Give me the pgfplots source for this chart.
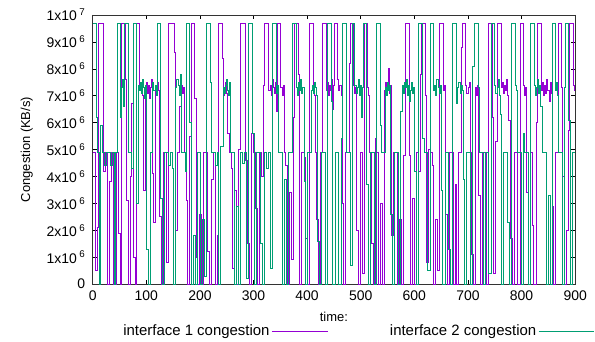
\documentclass[border=0pt]{standalone}
\usepackage{fontspec}
\setmainfont{Liberation Sans}
\usepackage{pgfplots}
\usepackage{pgfplotstable}
\pgfplotsset{compat=1.18}
\definecolor{ifaceA}{HTML}{9400D3}
\definecolor{ifaceB}{HTML}{009E73}
\pgfplotstableread[row sep=\\]{
t v\\
0 4.9\\5 4.9\\5 0.5\\8 0.5\\8 2.1\\11 2.1\\11 9.7\\19 9.7\\19 4.2\\23 4.2\\23 4.9\\27 4.9\\27 0\\31 0\\31 3.8\\35 3.8\\35 4.9\\39 4.9\\39 0\\44 0\\44 4.9\\48 4.9\\48 1.9\\51 1.9\\51 0\\54 0\\54 9.7\\61 9.7\\61 7.6\\63 7.6\\63 3.1\\66 3.1\\66 0\\70 0\\70 4.0\\73 4.0\\73 6.7\\76 6.7\\76 1.0\\79 1.0\\79 0\\82 0\\82 9.7\\88 9.7\\88 7.2\\91 7.2\\91 7.4\\93 7.4\\93 7.0\\95 7.0\\95 3.5\\98 3.5\\98 7.3\\100 7.3\\100 7.5\\102 7.5\\102 7.1\\104 7.1\\104 7.4\\106 7.4\\106 6.9\\108 6.9\\108 7.3\\110 7.3\\110 7.6\\112 7.6\\112 4.1\\114 4.1\\114 2.3\\117 2.3\\117 7.3\\119 7.3\\119 7.1\\121 7.1\\121 7.5\\123 7.5\\123 7.2\\125 7.2\\125 2.5\\128 2.5\\128 0\\131 0\\131 4.9\\138 4.9\\138 0.8\\141 0.8\\141 9.7\\152 9.7\\152 8.6\\155 8.6\\155 2.0\\158 2.0\\158 4.9\\162 4.9\\162 6.6\\165 6.6\\165 7.4\\167 7.4\\167 7.1\\169 7.1\\169 7.3\\171 7.3\\171 4.9\\174 4.9\\174 3.1\\177 3.1\\177 0\\181 0\\181 5.5\\184 5.5\\184 9.7\\190 9.7\\190 6.9\\193 6.9\\193 1.0\\196 1.0\\196 0\\199 0\\199 2.6\\202 2.6\\202 0\\206 0\\206 4.9\\213 4.9\\213 1.2\\217 1.2\\217 0\\221 0\\221 3.9\\225 3.9\\225 4.9\\228 4.9\\228 0\\232 0\\232 1.8\\235 1.8\\235 9.7\\242 9.7\\242 8.4\\244 8.4\\244 7.0\\246 7.0\\246 7.3\\248 7.3\\248 7.5\\250 7.5\\250 7.1\\252 7.1\\252 5.6\\255 5.6\\255 4.9\\258 4.9\\258 4.3\\261 4.3\\261 0.6\\264 0.6\\264 3.5\\268 3.5\\268 0\\272 0\\272 5.0\\276 5.0\\276 9.7\\285 9.7\\285 4.6\\288 4.6\\288 1.5\\292 1.5\\292 0\\296 0\\296 5.6\\300 5.6\\300 4.9\\304 4.9\\304 2.8\\307 2.8\\307 0\\311 0\\311 4.9\\315 4.9\\315 4.0\\318 4.0\\318 7.4\\321 7.4\\321 9.7\\328 9.7\\328 7.2\\331 7.2\\331 7.4\\333 7.4\\333 7.0\\335 7.0\\335 7.6\\337 7.6\\337 7.3\\339 7.3\\339 7.1\\341 7.1\\341 7.5\\343 7.5\\343 6.4\\345 6.4\\345 9.7\\351 9.7\\351 7.3\\353 7.3\\353 7.0\\355 7.0\\355 7.4\\357 7.4\\357 4.9\\360 4.9\\360 4.4\\363 4.4\\363 0\\367 0\\367 3.4\\370 3.4\\370 0.9\\374 0.9\\374 6.2\\377 6.2\\377 9.7\\384 9.7\\384 7.8\\386 7.8\\386 0\\390 0\\390 4.9\\394 4.9\\394 4.7\\397 4.7\\397 1.7\\400 1.7\\400 0\\404 0\\404 9.7\\411 9.7\\411 7.3\\413 7.3\\413 7.0\\415 7.0\\415 4.9\\418 4.9\\418 2.4\\421 2.4\\421 0\\425 0\\425 4.9\\428 4.9\\428 9.7\\435 9.7\\435 7.2\\437 7.2\\437 7.5\\439 7.5\\439 7.0\\441 7.0\\441 7.4\\443 7.4\\443 7.2\\445 7.2\\445 7.6\\447 7.6\\447 6.5\\449 6.5\\449 7.4\\451 7.4\\451 9.7\\457 9.7\\457 7.6\\459 7.6\\459 7.2\\461 7.2\\461 7.4\\463 7.4\\463 7.0\\465 7.0\\465 3.0\\468 3.0\\468 0\\472 0\\472 4.9\\479 4.9\\479 8.2\\481 8.2\\481 9.7\\486 9.7\\486 7.4\\488 7.4\\488 7.1\\490 7.1\\490 7.3\\492 7.3\\492 2.0\\495 2.0\\495 0\\499 0\\499 4.9\\503 4.9\\503 0.4\\506 0.4\\506 9.7\\513 9.7\\513 7.3\\515 7.3\\515 7.0\\517 7.0\\517 4.9\\520 4.9\\520 1.5\\523 1.5\\523 0\\527 0\\527 5.4\\530 5.4\\530 4.9\\533 4.9\\533 0\\537 0\\537 3.0\\540 3.0\\540 0\\544 0\\544 7.2\\546 7.2\\546 7.5\\548 7.5\\548 7.0\\550 7.0\\550 7.3\\552 7.3\\552 8.0\\554 8.0\\554 7.1\\556 7.1\\556 7.4\\558 7.4\\558 1.8\\561 1.8\\561 4.9\\568 4.9\\568 0\\572 0\\572 2.4\\575 2.4\\575 0\\579 0\\579 4.8\\583 4.8\\583 9.7\\590 9.7\\590 4.8\\593 4.8\\593 0\\597 0\\597 3.2\\600 3.2\\600 0\\604 0\\604 4.9\\608 4.9\\608 4.2\\611 4.2\\611 7.8\\614 7.8\\614 9.7\\620 9.7\\620 7.0\\623 7.0\\623 0.8\\626 0.8\\626 5.0\\630 5.0\\630 4.9\\633 4.9\\633 4.4\\636 4.4\\636 0\\640 0\\640 2.4\\643 2.4\\643 0.5\\647 0.5\\647 9.7\\654 9.7\\654 7.2\\656 7.2\\656 7.4\\658 7.4\\658 2.6\\661 2.6\\661 0\\665 0\\665 4.9\\672 4.9\\672 0\\676 0\\676 3.7\\679 3.7\\679 0\\683 0\\683 4.9\\687 4.9\\687 8.8\\690 8.8\\690 9.7\\696 9.7\\696 7.4\\698 7.4\\698 7.1\\700 7.1\\700 7.3\\702 7.3\\702 7.5\\704 7.5\\704 4.9\\707 4.9\\707 1.1\\710 1.1\\710 0\\714 0\\714 7.3\\716 7.3\\716 7.0\\718 7.0\\718 7.4\\720 7.4\\720 3.3\\723 3.3\\723 0\\727 0\\727 4.9\\734 4.9\\734 0\\738 0\\738 9.7\\745 9.7\\745 6.2\\748 6.2\\748 0.4\\752 0.4\\752 5.3\\755 5.3\\755 9.7\\762 9.7\\762 7.3\\764 7.3\\764 7.5\\766 7.5\\766 7.1\\768 7.1\\768 7.4\\770 7.4\\770 7.2\\772 7.2\\772 7.6\\774 7.6\\774 7.0\\776 7.0\\776 6.1\\779 6.1\\779 1.7\\782 1.7\\782 0\\786 0\\786 4.9\\793 4.9\\793 0\\797 0\\797 9.7\\803 9.7\\803 7.4\\805 7.4\\805 7.0\\807 7.0\\807 7.3\\809 7.3\\809 3.4\\812 3.4\\812 0\\816 0\\816 4.9\\820 4.9\\820 2.2\\823 2.2\\823 0\\827 0\\827 6.0\\830 6.0\\830 9.7\\837 9.7\\837 7.2\\839 7.2\\839 7.5\\841 7.5\\841 7.0\\843 7.0\\843 7.4\\845 7.4\\845 7.1\\847 7.1\\847 7.6\\849 7.6\\849 7.2\\851 7.2\\851 6.8\\853 6.8\\853 7.5\\855 7.5\\855 7.1\\857 7.1\\857 2.9\\860 2.9\\860 0\\864 0\\864 4.9\\868 4.9\\868 9.7\\875 9.7\\875 7.3\\877 7.3\\877 4.0\\880 4.0\\880 0\\884 0\\884 2.0\\887 2.0\\887 5.7\\890 5.7\\890 9.7\\896 9.7\\896 7.4\\898 7.4\\898 7.2\\900 7.2\\
}\ifaceAdata
\pgfplotstableread[row sep=\\]{
t v\\
0 9.7\\6 9.7\\6 6.2\\8 6.2\\8 4.9\\12 4.9\\12 0\\15 0\\15 5.9\\18 5.9\\18 4.9\\22 4.9\\22 4.4\\25 4.4\\25 4.9\\33 4.9\\33 4.4\\36 4.4\\36 4.9\\40 4.9\\40 0\\43 0\\43 4.9\\46 4.9\\46 9.7\\52 9.7\\52 6.2\\54 6.2\\54 7.3\\56 7.3\\56 7.6\\58 7.6\\58 6.6\\60 6.6\\60 9.7\\66 9.7\\66 4.9\\73 4.9\\73 4.3\\76 4.3\\76 9.7\\82 9.7\\82 3.0\\85 3.0\\85 7.4\\87 7.4\\87 7.2\\89 7.2\\89 7.5\\91 7.5\\91 7.1\\93 7.1\\93 7.6\\95 7.6\\95 7.3\\97 7.3\\97 6.9\\99 6.9\\99 7.4\\101 7.4\\101 1.3\\104 1.3\\104 0\\108 0\\108 4.9\\112 4.9\\112 7.5\\114 7.5\\114 7.2\\116 7.2\\116 7.4\\118 7.4\\118 7.0\\120 7.0\\120 9.7\\127 9.7\\127 3.2\\130 3.2\\130 0\\134 0\\134 4.9\\141 4.9\\141 4.4\\144 4.4\\144 4.9\\148 4.9\\148 4.3\\151 4.3\\151 0\\155 0\\155 7.3\\157 7.3\\157 7.6\\159 7.6\\159 7.4\\161 7.4\\161 7.0\\163 7.0\\163 7.8\\165 7.8\\165 4.9\\172 4.9\\172 4.2\\175 4.2\\175 9.7\\181 9.7\\181 6.0\\184 6.0\\184 0\\188 0\\188 1.8\\192 1.8\\192 0\\196 0\\196 4.9\\200 4.9\\200 0\\204 0\\204 2.4\\208 2.4\\208 0.3\\212 0.3\\212 9.7\\219 9.7\\219 7.5\\221 7.5\\221 4.9\\229 4.9\\229 4.4\\232 4.4\\232 4.9\\235 4.9\\235 0\\239 0\\239 5.1\\243 5.1\\243 7.3\\245 7.3\\245 7.1\\247 7.1\\247 7.4\\249 7.4\\249 7.6\\251 7.6\\251 7.2\\253 7.2\\253 7.0\\255 7.0\\255 7.5\\257 7.5\\257 4.9\\264 4.9\\264 0\\268 0\\268 2.9\\271 2.9\\271 0\\275 0\\275 4.9\\279 4.9\\279 4.5\\283 4.5\\283 4.9\\287 4.9\\287 0.2\\291 0.2\\291 9.7\\298 9.7\\298 5.6\\301 5.6\\301 0\\305 0\\305 4.9\\312 4.9\\312 1.5\\316 1.5\\316 0\\320 0\\320 4.9\\324 4.9\\324 4.3\\328 4.3\\328 4.9\\332 4.9\\332 0.6\\336 0.6\\336 9.7\\343 9.7\\343 7.1\\345 7.1\\345 7.4\\347 7.4\\347 4.9\\354 4.9\\354 0\\358 0\\358 3.9\\361 3.9\\361 0\\365 0\\365 4.9\\373 4.9\\373 9.7\\380 9.7\\380 7.3\\382 7.3\\382 7.0\\384 7.0\\384 7.5\\386 7.5\\386 7.2\\388 7.2\\388 7.6\\390 7.6\\390 7.1\\392 7.1\\392 7.3\\394 7.3\\394 3.8\\397 3.8\\397 0\\401 0\\401 4.9\\408 4.9\\408 7.2\\410 7.2\\410 7.4\\412 7.4\\412 7.1\\414 7.1\\414 7.5\\416 7.5\\416 7.3\\418 7.3\\418 7.0\\420 7.0\\420 1.6\\423 1.6\\423 0\\427 0\\427 4.9\\434 4.9\\434 0\\438 0\\438 9.7\\445 9.7\\445 6.8\\448 6.8\\448 0\\452 0\\452 4.9\\459 4.9\\459 0\\463 0\\463 5.4\\466 5.4\\466 9.7\\473 9.7\\473 4.9\\480 4.9\\480 0.7\\484 0.7\\484 9.7\\489 9.7\\489 7.4\\491 7.4\\491 7.1\\493 7.1\\493 7.3\\495 7.3\\495 7.6\\497 7.6\\497 7.0\\499 7.0\\499 7.4\\501 7.4\\501 6.2\\503 6.2\\503 7.3\\505 7.3\\505 9.7\\511 9.7\\511 3.7\\514 3.7\\514 0\\518 0\\518 4.9\\525 4.9\\525 0\\529 0\\529 9.7\\536 9.7\\536 5.9\\539 5.9\\539 4.9\\546 4.9\\546 7.3\\548 7.3\\548 7.0\\550 7.0\\550 7.5\\552 7.5\\552 7.2\\554 7.2\\554 7.4\\556 7.4\\556 2.6\\559 2.6\\559 0\\563 0\\563 4.9\\570 4.9\\570 0\\574 0\\574 6.4\\577 6.4\\577 7.4\\579 7.4\\579 7.1\\581 7.1\\581 7.5\\583 7.5\\583 7.3\\585 7.3\\585 7.6\\587 7.6\\587 7.0\\589 7.0\\589 7.4\\591 7.4\\591 6.8\\593 6.8\\593 7.2\\595 7.2\\595 7.5\\597 7.5\\597 7.1\\599 7.1\\599 7.3\\601 7.3\\601 4.2\\604 4.2\\604 0\\608 0\\608 9.7\\615 9.7\\615 5.4\\618 5.4\\618 4.9\\625 4.9\\625 0.5\\629 0.5\\629 9.7\\636 9.7\\636 7.2\\638 7.2\\638 7.4\\640 7.4\\640 7.0\\642 7.0\\642 7.6\\644 7.6\\644 7.3\\646 7.3\\646 7.1\\648 7.1\\648 7.4\\650 7.4\\650 3.5\\653 3.5\\653 0\\657 0\\657 4.9\\664 4.9\\664 1.3\\667 1.3\\667 0\\671 0\\671 9.7\\678 9.7\\678 6.7\\681 6.7\\681 7.3\\683 7.3\\683 7.5\\685 7.5\\685 7.1\\687 7.1\\687 7.4\\689 7.4\\689 7.2\\691 7.2\\691 3.9\\694 3.9\\694 0\\698 0\\698 4.9\\705 4.9\\705 0\\709 0\\709 8.1\\712 8.1\\712 9.7\\719 9.7\\719 7.3\\721 7.3\\721 4.9\\728 4.9\\728 0\\732 0\\732 4.9\\739 4.9\\739 0.4\\743 0.4\\743 9.7\\750 9.7\\750 7.4\\752 7.4\\752 7.1\\754 7.1\\754 7.3\\756 7.3\\756 7.6\\758 7.6\\758 7.0\\760 7.0\\760 6.3\\763 6.3\\763 0\\767 0\\767 4.9\\774 4.9\\774 2.3\\777 2.3\\777 0\\781 0\\781 9.7\\788 9.7\\788 7.4\\790 7.4\\790 7.2\\792 7.2\\792 4.9\\799 4.9\\799 0\\803 0\\803 5.6\\806 5.6\\806 4.9\\813 4.9\\813 0\\817 0\\817 9.7\\824 9.7\\824 7.4\\826 7.4\\826 7.0\\828 7.0\\828 7.3\\830 7.3\\830 7.6\\832 7.6\\832 7.1\\834 7.1\\834 7.4\\836 7.4\\836 6.6\\839 6.6\\839 4.9\\846 4.9\\846 0\\850 0\\850 3.3\\853 3.3\\853 0\\857 0\\857 9.7\\863 9.7\\863 7.2\\865 7.2\\865 7.5\\867 7.5\\867 7.0\\869 7.0\\869 4.9\\876 4.9\\876 0\\880 0\\880 7.3\\882 7.3\\882 9.7\\888 9.7\\888 6.1\\891 6.1\\891 0\\895 0\\895 4.9\\900 4.9\\
}\ifaceBdata
\begin{document}
\begin{tikzpicture}
\begin{axis}[name=a, at={(0,0)}, anchor=south west,
 scale only axis, width=484pt, height=270pt,
 xmin=0, xmax=900, ymin=0, ymax=10,
 xtick={0,100,...,900}, ytick={0,1,...,10},
 yticklabels={0,1x10\,\textsuperscript{6},2x10\,\textsuperscript{6},3x10\,\textsuperscript{6},4x10\,\textsuperscript{6},5x10\,\textsuperscript{6},6x10\,\textsuperscript{6},7x10\,\textsuperscript{6},8x10\,\textsuperscript{6},9x10\,\textsuperscript{6},1x10\,\textsuperscript{7}},
 tick align=inside, major tick length=4pt,
 tick style={black, line width=0.5pt},
 axis line style={black!80, line width=0.6pt},
 xlabel={time:}, ylabel={Congestion (KB/s)},
 ticklabel style={font=\fontsize{14}{16}\selectfont},
 xticklabel style={yshift=-3pt},
 yticklabel style={xshift=-4pt},
 xlabel style={yshift=-5pt},
 ylabel style={yshift=7pt},
 label style={font=\fontsize{13}{15}\selectfont},
 /pgf/number format/assume math mode=true,
 legend columns=2, legend plot pos=right,
 legend style={draw=white, fill=none, inner sep=0pt, at={(0.55,-0.175)}, anchor=center,
   font=\fontsize{15}{17}\selectfont,
   /tikz/every even column/.append style={column sep=60pt}},
 legend image code/.code={\path (0pt,0pt) -- (56pt,0pt); \draw[#1] (12pt,0pt) -- (56pt,0pt); \draw[#1] (12pt,0pt) -- (56pt,0pt);},
]
\addplot[forget plot, color=ifaceA, line width=0.75pt, mark=none] table[x=t, y=v] {\ifaceAdata};
\addplot[color=ifaceA, line width=0.75pt, mark=none] table[x=t, y=v] {\ifaceAdata};
\addlegendentry{interface 1 congestion}
\addplot[forget plot, color=ifaceB, line width=0.75pt, mark=none] table[x=t, y=v] {\ifaceBdata};
\addplot[color=ifaceB, line width=0.75pt, mark=none] table[x=t, y=v] {\ifaceBdata};
\addlegendentry{interface 2 congestion}
\end{axis}
\path[use as bounding box] ([xshift=-93pt,yshift=-58pt]a.south west) rectangle ([xshift=18pt,yshift=15pt]a.north east);
\end{tikzpicture}
\end{document}
